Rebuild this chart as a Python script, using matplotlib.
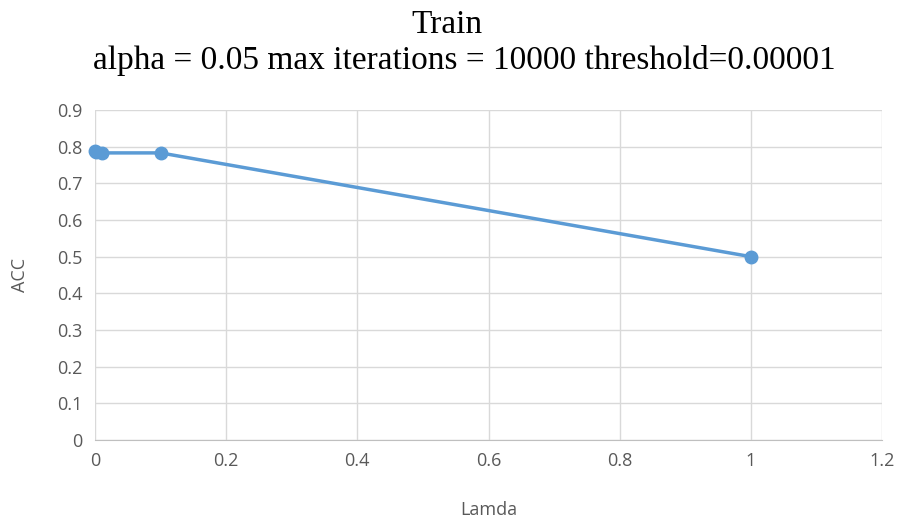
import matplotlib
matplotlib.use('Agg')
import matplotlib.pyplot as plt

# data
lamda = [0, 0.001, 0.01, 0.1, 1]
acc = [0.787, 0.785, 0.783, 0.783, 0.5]
xticks = [0, 0.2, 0.4, 0.6, 0.8, 1, 1.2]
yticks = [0, 0.1, 0.2, 0.3, 0.4, 0.5, 0.6, 0.7, 0.8, 0.9]

grey = '#595959'
blue = '#5B9BD5'

fig = plt.figure(figsize=(9, 5.25), dpi=100)
ax = fig.add_axes([95/900, 1 - 440/525, (882 - 95)/900, (440 - 110)/525])

ax.plot(lamda, acc, color=blue, linewidth=2.5, marker='o', markersize=9, zorder=3, clip_on=False)

ax.set_xlim(0, 1.2)
ax.set_ylim(0, 0.9)
ax.set_xticks(xticks)
ax.set_xticklabels(['0', '0.2', '0.4', '0.6', '0.8', '1', '1.2'])
ax.set_yticks(yticks)
ax.set_yticklabels(['0', '0.1', '0.2', '0.3', '0.4', '0.5', '0.6', '0.7', '0.8', '0.9'])
ax.grid(True, color='#d9d9d9', linewidth=1)
ax.set_axisbelow(True)
for s in ['top', 'right', 'left']:
    ax.spines[s].set_visible(False)
ax.spines['bottom'].set_color('#bfbfbf')
ax.tick_params(length=0, labelsize=13, colors=grey, pad=9)
for t in ax.get_xticklabels() + ax.get_yticklabels():
    t.set_fontfamily('Open Sans')

ax.set_xlabel('Lamda', fontsize=13, color=grey, family='Open Sans', labelpad=22)
ax.set_ylabel('ACC', fontsize=13, color=grey, family='Open Sans', labelpad=20)

fig.text(447/900, 1 - 25/525, 'Train', ha='center', va='center', fontsize=24, family='Liberation Serif')
fig.text(464/900, 1 - 61/525, 'alpha = 0.05 max iterations = 10000 threshold=0.00001',
         ha='center', va='center', fontsize=24, family='Liberation Serif')

fig.savefig('out.png', dpi=100)
